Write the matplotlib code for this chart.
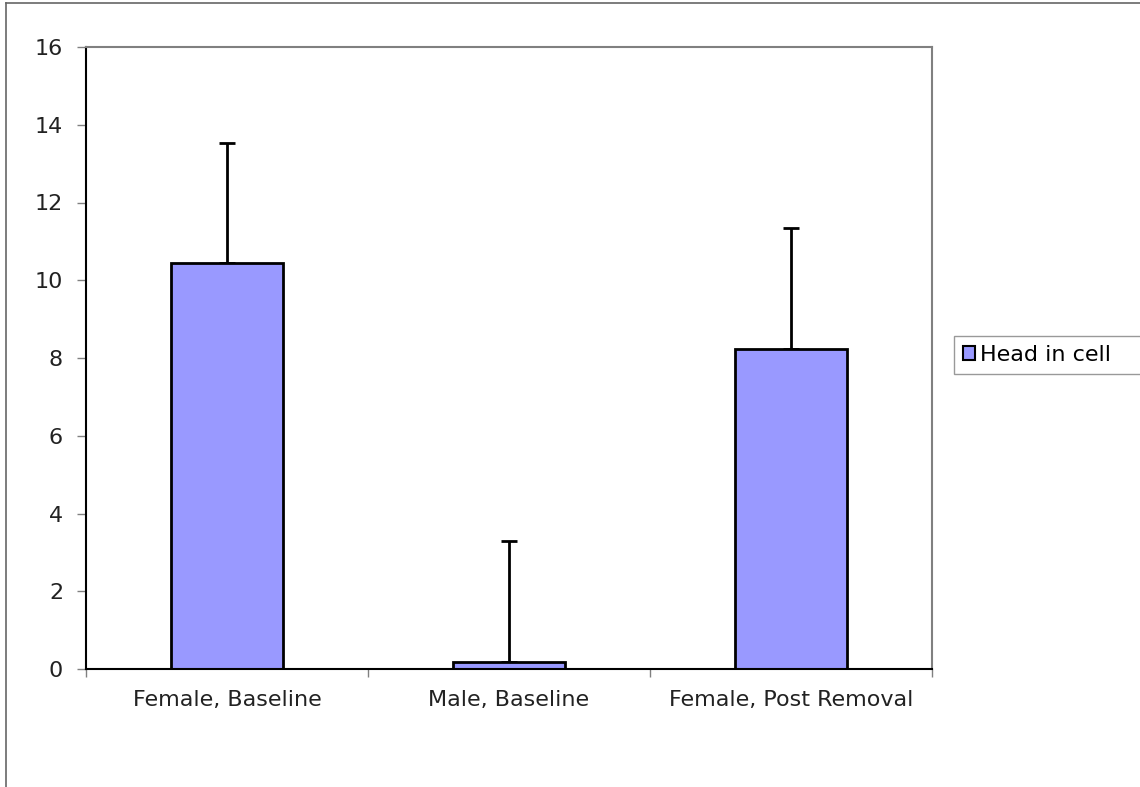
import matplotlib
matplotlib.use("Agg")
import matplotlib.pyplot as plt
from matplotlib.lines import Line2D
from matplotlib.patches import Patch

categorias = ["Female, Baseline", "Male, Baseline", "Female, Post Removal"]
valores = [10.44, 0.18, 8.22]
erros = [3.1, 3.12, 3.12]
serie = "Head in cell"

cor_barra = "#9999FF"
cinza = "#808080"

plt.rcParams["font.family"] = ["DejaVu Sans"]

fig = plt.figure(figsize=(11.4, 7.87), dpi=100)
ax = fig.add_axes([86/1140, 1 - 669/787, 846/1140, 622/787])

xpos = list(range(len(categorias)))
ax.bar(xpos, valores, width=0.4, color=cor_barra, edgecolor="black", linewidth=2, zorder=2)
ax.errorbar(xpos, valores, yerr=[[0]*len(erros), erros], fmt="none",
            ecolor="black", elinewidth=2, capsize=6, capthick=2, zorder=1)

ax.set_xlim(-0.5, len(categorias) - 0.5)
ax.set_ylim(0, 16)
ax.set_yticks(range(0, 17, 2))

# rotulos no centro, tracinhos nas fronteiras das categorias
ax.set_xticks(xpos)
ax.set_xticklabels(categorias)
ax.set_xticks([i - 0.5 for i in range(len(categorias) + 1)], minor=True)
ax.tick_params(axis="x", which="major", length=0, pad=15, labelsize=16, colors="#222222")
ax.tick_params(axis="x", which="minor", length=6, width=1, color=cinza, direction="out")
ax.tick_params(axis="y", length=6.5, width=1, color=cinza, pad=10, labelsize=16, labelcolor="#222222")

ax.spines["left"].set_color("black")
ax.spines["bottom"].set_color("black")
ax.spines["left"].set_linewidth(1.5)
ax.spines["bottom"].set_linewidth(1.5)
ax.spines["top"].set_color(cinza)
ax.spines["right"].set_color(cinza)
ax.spines["top"].set_linewidth(1.5)
ax.spines["right"].set_linewidth(1.5)

# legenda encostada ao lado direito, como no Excel
handle = Patch(facecolor=cor_barra, edgecolor="black", linewidth=1.5)
leg = fig.legend([handle], [serie], loc="upper left", mode="expand",
                 bbox_to_anchor=(954/1140, 1 - 378/787, 187/1140, 42/787), fontsize=16,
                 frameon=True, fancybox=False, handlelength=0.55, handleheight=0.55,
                 handletextpad=0.2, borderpad=0.4, borderaxespad=0)
leg.get_frame().set_edgecolor(cinza)
leg.get_frame().set_linewidth(1)

# moldura exterior do grafico
fig.add_artist(Line2D([6/1140, 1], [1 - 3/787, 1 - 3/787], color="#666666", lw=1.2))
fig.add_artist(Line2D([6/1140, 6/1140], [0, 1 - 3/787], color="#666666", lw=1.2))

fig.savefig("out.png", dpi=100)
